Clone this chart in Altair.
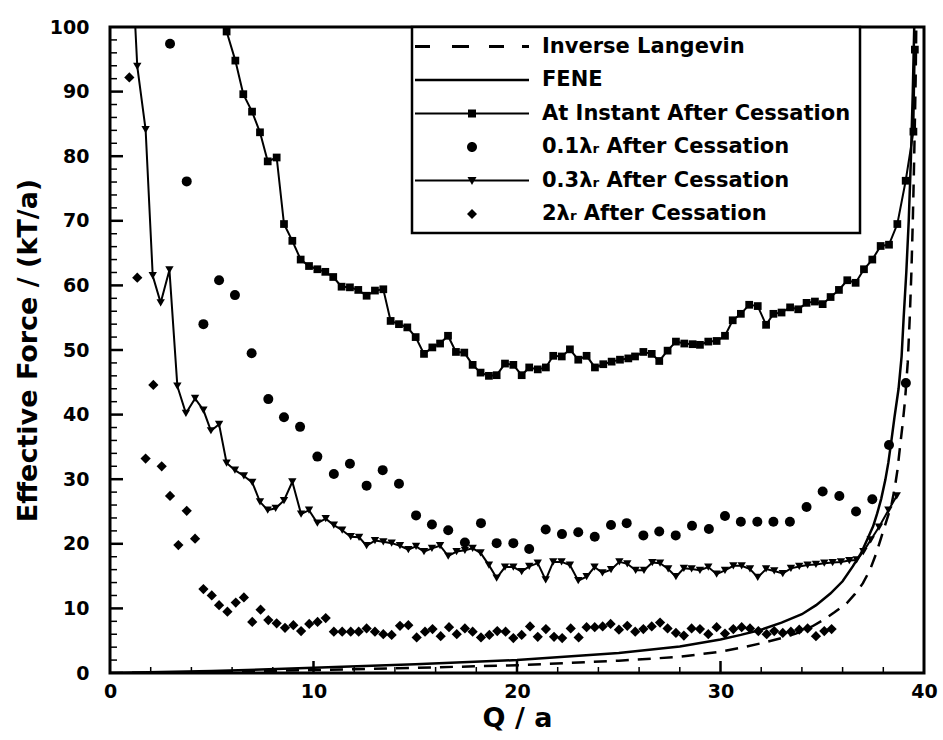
import altair as alt
import pandas as pd

FONT = "DejaVu Sans"

# ---------------- data ----------------
legend_labels = [
    "Inverse Langevin",
    "FENE",
    "At Instant After Cessation",
    "0.1λᵣ After Cessation",
    "0.3λᵣ After Cessation",
    "2λᵣ After Cessation",
]

x_tick_labels = [0, 10, 20, 30, 40]
y_tick_labels = [0, 10, 20, 30, 40, 50, 60, 70, 80, 90, 100]
x_minor_ticks = [2, 4, 6, 8, 12, 14, 16, 18, 22, 24, 26, 28, 32, 34, 36, 38]
x_major_ticks = [10, 20, 30]
y_minor_ticks = [2, 4, 6, 8, 12, 14, 16, 18, 22, 24, 26, 28, 32, 34, 36, 38,
                 42, 44, 46, 48, 52, 54, 56, 58, 62, 64, 66, 68, 72, 74, 76, 78,
                 82, 84, 86, 88, 92, 94, 96, 98]
y_major_ticks = [10, 20, 30, 40, 50, 60, 70, 80, 90]

# (Q/a, force) pairs
inverse_langevin = [
    (0, 0), (5, 0.15), (10, 0.45), (15, 0.8), (20, 1.2), (25, 1.9), (28, 2.5),
    (30, 3.3), (31, 3.9), (32, 4.6), (33, 5.4), (33.7, 6.1), (34.5, 7.2),
    (35.05, 8.2), (35.6, 9.4), (36.2, 10.8), (36.6, 12.2), (37.0, 13.9),
    (37.35, 16.0), (37.65, 18.5), (37.9, 21.0), (38.17, 23.7), (38.4, 26.0),
    (38.57, 28.8), (38.7, 31.5), (38.82, 35), (38.95, 38.5), (39.07, 42.3),
    (39.2, 48), (39.3, 55), (39.38, 62), (39.45, 70), (39.5, 77), (39.55, 85),
    (39.59, 92), (39.62, 100),
]

fene = [
    (0, 0), (5, 0.3), (10, 0.8), (15, 1.35), (20, 2.0), (25, 3.1), (28, 4.1),
    (30, 5.2), (31, 5.9), (32, 6.7), (33, 7.8), (34, 9.1), (34.7, 10.5),
    (35.4, 12.3), (36.0, 14.2), (36.5, 16.5), (36.9, 18.5), (37.2, 20.6),
    (37.5, 22.7), (37.7, 24.7), (37.9, 27.0), (38.1, 29.9), (38.25, 32.6),
    (38.4, 36), (38.55, 39.6), (38.75, 44), (38.9, 49), (39.0, 55),
    (39.13, 62), (39.25, 70), (39.35, 79), (39.45, 90), (39.52, 100),
]

instant = [
    (5.73, 99.3), (6.16, 94.8), (6.55, 89.6), (6.98, 86.9), (7.37, 83.7),
    (7.75, 79.2), (8.19, 79.8), (8.55, 69.5), (8.96, 66.9), (9.37, 64.0),
    (9.78, 63.0), (10.19, 62.5), (10.58, 62.1), (10.97, 61.3), (11.38, 59.8),
    (11.79, 59.7), (12.2, 59.3), (12.61, 58.4), (13.02, 59.2), (13.43, 59.4),
    (13.79, 54.5), (14.2, 54.0), (14.61, 53.5), (15.02, 52.0), (15.43, 49.4),
    (15.84, 50.4), (16.22, 51.0), (16.61, 52.2), (17.0, 49.7), (17.41, 49.6),
    (17.82, 47.7), (18.21, 46.5), (18.62, 46.0), (19.0, 46.1), (19.41, 47.9),
    (19.82, 47.7), (20.23, 46.1), (20.6, 47.3), (21.02, 47.0), (21.42, 47.3),
    (21.78, 49.1), (22.2, 49.0), (22.6, 50.1), (23.01, 48.5), (23.42, 49.1),
    (23.83, 47.3), (24.24, 47.8), (24.65, 48.2), (25.06, 48.5), (25.47, 48.7),
    (25.8, 49.0), (26.21, 49.7), (26.62, 49.4), (26.99, 48.3), (27.4, 49.9),
    (27.81, 51.3), (28.22, 51.0), (28.63, 50.9), (28.99, 50.8), (29.4, 51.3),
    (29.81, 51.4), (30.22, 52.2), (30.6, 54.6), (31.0, 55.6), (31.41, 57.0),
    (31.83, 56.8), (32.24, 53.9), (32.6, 55.6), (33.0, 55.8), (33.42, 56.6),
    (33.82, 56.3), (34.23, 57.3), (34.64, 57.5), (35.02, 57.1), (35.41, 58.2),
    (35.82, 59.3), (36.23, 60.8), (36.64, 60.4), (37.05, 62.5), (37.46, 64.0),
    (37.87, 66.1), (38.28, 66.3), (38.69, 69.5), (39.1, 76.2), (39.48, 83.8),
    (39.55, 96.5),
]

lambda01 = [
    (2.95, 97.4), (3.77, 76.1), (4.59, 54.0), (5.36, 60.8), (6.14, 58.5),
    (6.96, 49.5), (7.78, 42.4), (8.55, 39.6), (9.34, 38.1), (10.19, 33.5),
    (11.0, 30.8), (11.79, 32.4), (12.61, 29.0), (13.4, 31.4), (14.2, 29.3),
    (15.04, 24.4), (15.82, 23.0), (16.62, 22.1), (17.44, 20.2), (18.23, 23.2),
    (19.0, 20.1), (19.82, 20.1), (20.6, 19.2), (21.41, 22.2), (22.21, 21.5),
    (23.01, 21.8), (23.82, 21.1), (24.62, 22.9), (25.39, 23.2), (26.21, 21.3),
    (26.99, 21.9), (27.8, 21.3), (28.6, 22.8), (29.43, 22.3), (30.22, 24.3),
    (31.0, 23.4), (31.81, 23.4), (32.6, 23.4), (33.41, 23.4), (34.23, 25.7),
    (35.02, 28.1), (35.84, 27.4), (36.66, 25.0), (37.46, 26.9), (38.28, 35.3),
    (39.11, 44.9),
]

lambda03 = [
    (1.18, 104), (1.34, 93.9), (1.75, 84.1), (2.1, 61.5), (2.49, 57.3),
    (2.92, 62.4), (3.31, 44.4), (3.73, 40.2), (4.18, 42.5), (4.59, 40.7),
    (4.96, 37.5), (5.36, 38.5), (5.73, 32.5), (6.14, 31.4), (6.58, 30.5),
    (6.99, 29.5), (7.37, 26.5), (7.75, 25.2), (8.14, 25.5), (8.55, 26.7),
    (8.96, 29.6), (9.39, 24.6), (9.78, 25.2), (10.19, 23.2), (10.6, 23.9),
    (11.0, 22.9), (11.41, 22.1), (11.83, 21.1), (12.24, 21.0), (12.61, 19.7),
    (13.02, 20.5), (13.43, 20.3), (13.84, 20.1), (14.25, 19.7), (14.66, 19.1),
    (15.04, 19.6), (15.43, 18.8), (15.82, 19.3), (16.22, 19.7), (16.62, 18.1),
    (17.03, 18.8), (17.44, 19.0), (17.82, 19.3), (18.21, 18.6), (18.62, 16.7),
    (19.0, 14.7), (19.41, 16.4), (19.82, 16.4), (20.23, 15.7), (20.6, 16.5),
    (21.02, 17.0), (21.41, 14.4), (21.78, 17.2), (22.19, 17.2), (22.6, 16.7),
    (23.01, 14.3), (23.42, 14.9), (23.81, 16.4), (24.2, 15.5), (24.62, 16.0),
    (25.03, 17.2), (25.42, 16.9), (25.83, 15.9), (26.24, 15.9), (26.65, 17.1),
    (27.03, 17.0), (27.43, 16.1), (27.81, 14.9), (28.2, 16.2), (28.58, 16.1),
    (28.99, 15.9), (29.4, 16.4), (29.81, 15.3), (30.22, 15.9), (30.63, 16.6),
    (31.04, 16.6), (31.45, 16.1), (31.83, 14.8), (32.24, 16.1), (32.64, 15.8),
    (33.06, 15.4), (33.46, 16.2), (33.87, 16.5), (34.28, 16.7), (34.69, 16.8),
    (35.1, 17.0), (35.51, 17.1), (35.92, 17.2), (36.33, 17.4), (36.69, 17.5),
    (37.02, 18.8), (37.38, 20.6), (37.79, 22.6), (38.25, 25.2), (38.66, 27.4),
]

lambda2 = [
    (0.95, 92.2), (1.34, 61.2), (1.75, 33.2), (2.13, 44.6), (2.54, 32.0),
    (2.95, 27.4), (3.36, 19.8), (3.77, 25.1), (4.18, 20.8), (4.59, 13.0),
    (5.0, 12.0), (5.36, 10.5), (5.77, 9.5), (6.18, 10.9), (6.58, 11.7),
    (6.99, 7.9), (7.4, 9.8), (7.78, 8.2), (8.19, 7.7), (8.6, 7.0), (9.01, 7.4),
    (9.39, 6.5), (9.79, 7.6), (10.2, 7.9), (10.6, 8.5), (11.0, 6.4),
    (11.41, 6.4), (11.83, 6.4), (12.22, 6.4), (12.61, 6.9), (13.02, 6.4),
    (13.43, 6.0), (13.84, 5.9), (14.25, 7.3), (14.66, 7.4), (15.07, 5.5),
    (15.48, 6.4), (15.85, 6.8), (16.25, 5.7), (16.66, 7.1), (17.04, 6.0),
    (17.44, 6.9), (17.82, 6.4), (18.23, 5.5), (18.64, 5.9), (19.03, 6.5),
    (19.44, 6.4), (19.82, 5.4), (20.23, 5.9), (20.64, 7.2), (21.02, 5.6),
    (21.42, 6.8), (21.82, 5.6), (22.22, 5.4), (22.64, 6.9), (23.03, 5.5),
    (23.42, 7.1), (23.82, 7.1), (24.21, 7.2), (24.6, 7.6), (25.01, 6.7),
    (25.42, 7.3), (25.81, 6.4), (26.21, 6.8), (26.62, 7.2), (27.03, 7.8),
    (27.4, 6.9), (27.81, 6.2), (28.2, 5.8), (28.58, 6.9), (28.99, 6.8),
    (29.4, 6.0), (29.81, 7.1), (30.22, 6.1), (30.63, 6.8), (31.04, 7.1),
    (31.45, 6.9), (31.86, 6.5), (32.27, 6.0), (32.64, 6.5), (33.06, 6.2),
    (33.46, 6.4), (33.87, 6.7), (34.28, 6.9), (34.69, 5.7), (35.1, 6.5),
    (35.46, 6.8),
]

# legend symbols: filled SVG paths (unit = sqrt(symbolSize)/2 px)
legend_paths = [
    "M-6.0,-0.15H-4.5V0.15H-6.0Z M-2.3,-0.15H-0.6V0.15H-2.3Z "
    "M1.4,-0.15H2.9V0.15H1.4Z M4.7,-0.15H5.4V0.15H4.7Z",
    "M-6.0,-0.13H5.4V0.13H-6.0Z",
    "M-6.0,-0.1H5.4V0.1H-6.0Z M-0.7,-0.4H0.1V0.4H-0.7Z",
    "M-0.8,0A0.5,0.5,0,1,0,0.2,0A0.5,0.5,0,1,0,-0.8,0Z",
    "M-6.0,-0.1H5.4V0.1H-6.0Z M-0.75,-0.35H0.15L-0.3,0.45Z",
    "M-0.3,-0.5L0.2,0L-0.3,0.5L-0.8,0Z",
]


def frame(pairs):
    return pd.DataFrame(pairs, columns=["Q", "F"])


W, H = 814, 646
xs = alt.Scale(domain=[0, 40], nice=False, zero=False)
ys = alt.Scale(domain=[0, 100], nice=False, zero=False)

label_style = dict(labelFont=FONT, labelFontSize=19, labelFontWeight="bold",
                   labelColor="black", titleFont=FONT, titleFontSize=27,
                   titleFontWeight="bold", titleColor="black")

axis_x_main = alt.Axis(orient="bottom", values=x_tick_labels, title="Q / a",
                       domain=False, ticks=False, grid=False, labelPadding=9,
                       titlePadding=4, labelFlush=False, format="d", **label_style)
axis_y_main = alt.Axis(orient="left", values=y_tick_labels,
                       title="Effective Force / (kT/a)", domain=False,
                       ticks=False, grid=False, labelPadding=21, titlePadding=7,
                       labelFlush=False, format="d", **label_style)


def enc(chart, xaxis=None, yaxis=None):
    return chart.encode(
        x=alt.X("Q:Q", scale=xs, axis=xaxis),
        y=alt.Y("F:Q", scale=ys, axis=yaxis),
    )


def y_ticks(vals, length, width):
    return alt.Chart(pd.DataFrame({"v": vals})).mark_rule(
        color="black", strokeWidth=width).encode(
        y=alt.Y("v:Q", scale=ys, axis=None),
        x=alt.value(0), x2=alt.value(length))


def x_ticks(vals, length, width):
    return alt.Chart(pd.DataFrame({"v": vals})).mark_rule(
        color="black", strokeWidth=width).encode(
        x=alt.X("v:Q", scale=xs, axis=None),
        y=alt.value(H), y2=alt.value(H - length))


il_layer = enc(alt.Chart(frame(inverse_langevin)).mark_line(
    color="black", strokeWidth=2.5, strokeDash=[13, 9], clip=True))
fene_layer = enc(alt.Chart(frame(fene)).mark_line(
    color="black", strokeWidth=2.5, clip=True), axis_x_main, axis_y_main)
instant_line = enc(alt.Chart(frame(instant)).mark_line(
    color="black", strokeWidth=2, clip=True))
instant_pts = enc(alt.Chart(frame(instant)).mark_point(
    shape="square", filled=True, size=60, color="black", opacity=1, clip=True))
l01_pts = enc(alt.Chart(frame(lambda01)).mark_point(
    shape="circle", filled=True, size=100, color="black", opacity=1, clip=True))
l03_line = enc(alt.Chart(frame(lambda03)).mark_line(
    color="black", strokeWidth=2, clip=True))
l03_pts = enc(alt.Chart(frame(lambda03)).mark_point(
    shape="triangle-down", filled=True, size=70, color="black", opacity=1, clip=True))
l2_pts = enc(alt.Chart(frame(lambda2)).mark_point(
    shape="diamond", filled=True, size=105, color="black", opacity=1, clip=True))

legend_df = pd.DataFrame({"series": legend_labels})
legend_layer = alt.Chart(legend_df).mark_point(
    filled=True, color="black", opacity=1, clip=True
).encode(
    x=alt.value(-400),
    y=alt.value(-400),
    shape=alt.Shape(
        "series:N",
        scale=alt.Scale(domain=legend_labels, range=legend_paths),
        legend=alt.Legend(
            title=None, orient="none", legendX=302, legendY=0,
            direction="vertical", symbolSize=400, symbolStrokeWidth=0,
            symbolFillColor="black", symbolOpacity=1, symbolOffset=43.5,
            labelFont=FONT, labelFontSize=21, labelFontWeight="bold",
            labelColor="black", labelOffset=56.5, labelLimit=600,
            rowPadding=11.5, padding=9, strokeColor="black", fillColor="white",
        ),
    ),
)

chart = alt.layer(
    il_layer, fene_layer, instant_line, instant_pts, l01_pts, l03_line,
    l03_pts, l2_pts,
    y_ticks(y_minor_ticks, 7, 1.5), y_ticks(y_major_ticks, 13, 2.5),
    x_ticks(x_minor_ticks, 6, 1.5), x_ticks(x_major_ticks, 12, 2.5),
    legend_layer,
).resolve_axis(x="independent", y="independent").properties(
    width=W, height=H,
    padding={"left": 110, "top": 27, "right": 19, "bottom": 67},
    autosize=alt.AutoSizeParams(type="none"),
    background="white",
).configure_view(stroke="black", strokeWidth=3).configure_legend(strokeWidth=2.5)

chart.save("out.html", embed_options={"renderer": "svg", "actions": False})
